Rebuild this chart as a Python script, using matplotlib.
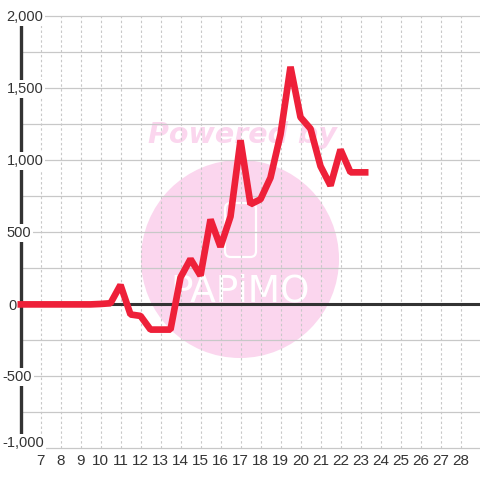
import matplotlib
matplotlib.use("Agg")
import matplotlib.pyplot as plt
from matplotlib.patches import Circle, FancyBboxPatch
from matplotlib.transforms import blended_transform_factory

hours = [5.85, 7, 8, 9, 9.5, 10, 10.5, 11, 11.5, 12, 12.5, 13, 13.5, 14, 14.5, 15, 15.5, 16, 16.5,
         17, 17.5, 18, 18.5, 19, 19.5, 20, 20.5, 21, 21.5, 22, 22.5, 23, 23.4]
values = [0, 0, 0, 0, 0, 3, 8, 135, -70, -80, -175, -175, -175, 187, 315, 200, 590, 400, 610,
          1140, 695, 730, 880, 1180, 1650, 1300, 1220, 960, 825, 1075, 917, 917, 917]
y_labels = ["-1,000", "-500", "0", "500", "1,000", "1,500", "2,000"]
y_label_left = [2, 2, 8, 6.5, 6.5, 6.5, 6.5]
y_label_mid = [-965, -507, -12, 493, 993, 1493, 1993]
x_ticks = list(range(7, 29))

plt.rcParams['font.family'] = ['Liberation Sans', 'DejaVu Sans']
W = 480.0


def fx(px):
    return px / W


def fy(px):
    return 1 - px / W


fig = plt.figure(figsize=(4.8, 4.8), dpi=100)
ax = fig.add_axes([fx(20.5), fy(448.4), 460 / W, 432 / W])
ax.set_xlim(6, 29)
ax.set_ylim(-1000, 2000)

for s in ['top', 'right', 'bottom', 'left']:
    ax.spines[s].set_visible(False)

# watermark, under the grid
pink = '#fbd6ee'
ax.add_artist(Circle((fx(240), fy(259)), 99 / W, color=pink, lw=0, zorder=0.5,
                     transform=fig.transFigure, clip_on=False))
ax.text(fx(242), fy(135), "Powered by", color=pink, fontsize=20.5, fontweight='bold',
        style='italic', family='DejaVu Sans', ha='center', va='center', zorder=0.6,
        transform=fig.transFigure, clip_on=False)
ax.add_artist(FancyBboxPatch((fx(225), fy(257)), 31 / W, 54 / W,
                             boxstyle="round,pad=0,rounding_size=0.012", fc='none', ec='white',
                             lw=1.6, zorder=0.7, transform=fig.transFigure, clip_on=False))
ax.text(fx(240), fy(291), "PAPiMO", color='white', fontsize=27, family='Liberation Sans Narrow',
        ha='center', va='center', zorder=0.7, transform=fig.transFigure)

# grid
for v in range(-1000, 2001, 250):
    ax.axhline(v, color='#c8c8c8', lw=0.9, zorder=1, clip_on=False)
for h in x_ticks:
    ax.axvline(h, color='#c8c8c8', lw=0.8, ls=(0, (2.2, 2.2)), zorder=1)
ax.axhline(0, color='#333333', lw=2.2, zorder=3)
ax.plot([6, 6], [-1000, 2000], color='#333333', lw=2.4, zorder=3, solid_capstyle='butt', clip_on=False)

# y labels sit on white boxes that break the axis line
label_tf = blended_transform_factory(fig.transFigure, ax.transData)
for lab, left, mid in zip(y_labels, y_label_left, y_label_mid):
    ax.text(fx(left), mid, lab, fontsize=10.5, color='#333333', ha='left', va='center',
            transform=label_tf, bbox=dict(fc='white', ec='none', pad=1.5), zorder=3.5, clip_on=False)

ax.plot(hours, values, color='#ee2039', lw=4.8, zorder=4, solid_joinstyle='bevel',
        solid_capstyle='butt', clip_on=False)

ax.set_yticks([])
ax.set_xticks(x_ticks)
ax.set_xticklabels([str(h) for h in x_ticks], fontsize=11, color='#333333')
ax.tick_params(length=0, axis='x', pad=4)

fig.savefig('out.png', dpi=100, facecolor='white')
